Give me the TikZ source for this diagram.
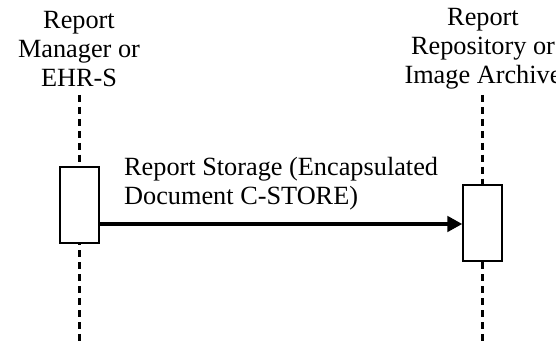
\documentclass[tikz,border=0pt]{standalone}
\usepackage{fontspec}
\setmainfont{Liberation Serif}
\usetikzlibrary{arrows.meta}
\tikzset{
  lifeline/.style={line width=1.7pt, dash pattern=on 5pt off 3.5pt},
  activation/.style={draw, line width=1pt, fill=white, minimum width=0.975cm, minimum height=1.9cm, inner sep=0pt},
  actor/.style={align=center, font=\fontsize{18.7}{20.5}\selectfont},
  msg/.style={line width=2.2pt, -{Triangle[length=10.5pt,width=11pt]}}
}
\begin{document}
\begin{tikzpicture}
			\useasboundingbox (0,0) rectangle (13.9,8.575);
			
			% Participantes
			\node[actor] (mgr) at (1.975, 7.35) {Report\\Manager or\\EHR-S};
			\node[actor] (repo) at (12.075, 7.35) {Report\\Repository or\\Image Archive};
			
			% Linhas de vida
			\coordinate (mgrtop) at (1.99, 6.2);
			\coordinate (mgrbot) at (1.99, 0);
			\coordinate (repotop) at (12.06, 6.2);
			\coordinate (repobot) at (12.06, 0);
			\draw[lifeline] (mgrtop) -- (mgrbot);
			\draw[lifeline] (repotop) -- (repobot);
			
			% Caixas de ativação
			\node[activation] (mgrbox) at (1.99, 3.45) {};
			\node[activation] (repobox) at (12.06, 3.0) {};
			
			% Mensagem
			\coordinate (msgstart) at (mgrbox.east |- 0, 2.975);
			\draw[msg] (msgstart) -- (msgstart -| repobox.west);
			\node[actor, align=left, anchor=west] (msglabel) at (2.98, 3.975) {Report Storage (Encapsulated\\Document C-STORE)};
		\end{tikzpicture}
\end{document}
